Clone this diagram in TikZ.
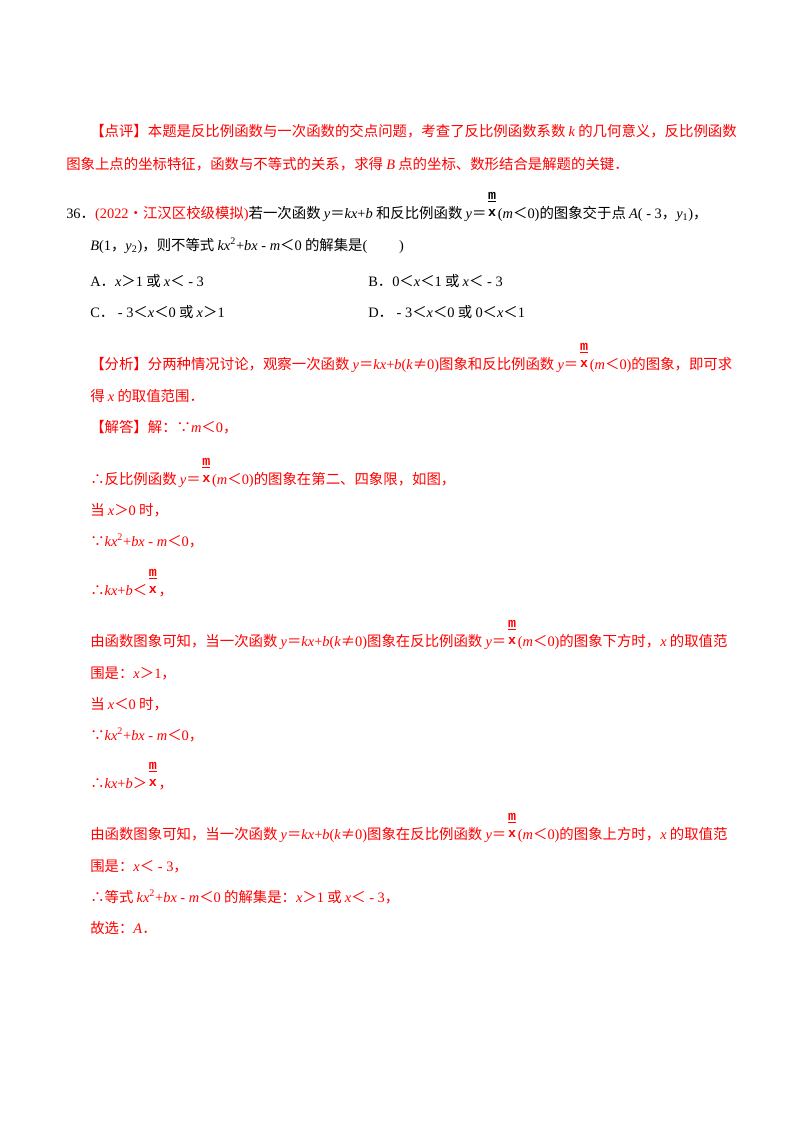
\documentclass[tikz,border=0pt]{standalone}
\usepackage{fontspec}
\setmainfont{Noto Sans CJK SC}
\newfontfamily\tmsf{Liberation Serif}
\newfontfamily\monof{Liberation Mono}
\newcommand\tr[1]{{\tmsf #1}}
\newcommand\ti[1]{{\tmsf\itshape #1}}
\newcommand\mfr{\makebox[0.8em]{\makebox[0pt]{\raisebox{14pt}{\monof\bfseries\fontsize{10}{10}\selectfont\underline{m}}}\makebox[0pt]{\raisebox{1pt}{\monof\bfseries\fontsize{10}{10}\selectfont x}}}}
\newcommand\mi{\tr{ - }}
\definecolor{rd}{RGB}{255,0,0}
\begin{document}
\begin{tikzpicture}[x=0.75pt,y=-0.75pt,
 t/.style={anchor=base west,inner sep=0pt,font=\fontsize{10.8}{12}\selectfont},
 r/.style={t,text=rd}]
\useasboundingbox (0,0) rectangle (800,1132);
\fill[white] (0,0) rectangle (800,1132);
\node[r] (l1) at (90,136) {【点评】本题是反比例函数与一次函数的交点问题，考查了反比例函数系数 \ti{k} 的几何意义，反比例函数};
\node[r] (l2) at (66,169) {图象上点的坐标特征，函数与不等式的关系，求得 \ti{B} 点的坐标、数形结合是解题的关键．};
\node[t] (q1) at (66,218) {\tr{36}．\textcolor{rd}{\tr{(2022}•江汉区校级模拟\tr{)}}若一次函数 \ti{y}＝\ti{kx}\tr{+}\ti{b} 和反比例函数 \ti{y}＝\mfr\tr{(}\ti{m}＜\tr{0)}的图象交于点 \ti{A}\tr{(}\mi\tr{3}，\ti{y}\tr{\textsubscript{1})}，};
\node[t] (q2) at (90,250) {\ti{B}\tr{(1}，\ti{y}\tr{\textsubscript{2})}，则不等式 \ti{kx}\tr{\textsuperscript{2}+}\ti{bx}\mi\ti{m}＜\tr{0} 的解集是\tr{(\hspace{2.2em})}};
\node[t] (oa) at (90,286) {\tr{A}．\ti{x}＞\tr{1} 或 \ti{x}＜\mi\tr{3}};
\node[t] (ob) at (368,286) {\tr{B}．\tr{0}＜\ti{x}＜\tr{1} 或 \ti{x}＜\mi\tr{3}};
\node[t] (oc) at (90,317) {\tr{C}．\mi\tr{3}＜\ti{x}＜\tr{0} 或 \ti{x}＞\tr{1}};
\node[t] (od) at (368,317) {\tr{D}．\mi\tr{3}＜\ti{x}＜\tr{0} 或 \tr{0}＜\ti{x}＜\tr{1}};
\begin{scope}[every node/.style={r}]
\node (a1) at (90,369) {【分析】分两种情况讨论，观察一次函数 \ti{y}＝\ti{kx}\tr{+}\ti{b}\tr{(}\ti{k}≠\tr{0)}图象和反比例函数 \ti{y}＝\mfr\tr{(}\ti{m}＜\tr{0)}的图象，即可求};
\node (a2) at (90,401) {得 \ti{x} 的取值范围．};
\node (s1) at (90,432) {【解答】解：∵\ti{m}＜\tr{0}，};
\node (s2) at (90,484) {∴反比例函数 \ti{y}＝\mfr\tr{(}\ti{m}＜\tr{0)}的图象在第二、四象限，如图，};
\node (s3) at (90,515) {当 \ti{x}＞\tr{0} 时，};
\node (s4) at (90,546) {∵\ti{kx}\tr{\textsuperscript{2}+}\ti{bx}\mi\ti{m}＜\tr{0}，};
\node (s5) at (90,595) {∴\ti{kx}\tr{+}\ti{b}＜\mfr，};
\node (s6) at (90,646) {由函数图象可知，当一次函数 \ti{y}＝\ti{kx}\tr{+}\ti{b}\tr{(}\ti{k}≠\tr{0)}图象在反比例函数 \ti{y}＝\mfr\tr{(}\ti{m}＜\tr{0)}的图象下方时，\ti{x} 的取值范};
\node (s7) at (90,678) {围是：\ti{x}＞\tr{1}，};
\node (s8) at (90,709) {当 \ti{x}＜\tr{0} 时，};
\node (s9) at (90,740) {∵\ti{kx}\tr{\textsuperscript{2}+}\ti{bx}\mi\ti{m}＜\tr{0}，};
\node (s10) at (90,788) {∴\ti{kx}\tr{+}\ti{b}＞\mfr，};
\node (s11) at (90,839) {由函数图象可知，当一次函数 \ti{y}＝\ti{kx}\tr{+}\ti{b}\tr{(}\ti{k}≠\tr{0)}图象在反比例函数 \ti{y}＝\mfr\tr{(}\ti{m}＜\tr{0)}的图象上方时，\ti{x} 的取值范};
\node (s12) at (90,871) {围是：\ti{x}＜\mi\tr{3}，};
\node (s13) at (90,902) {∴等式 \ti{kx}\tr{\textsuperscript{2}+}\ti{bx}\mi\ti{m}＜\tr{0} 的解集是：\ti{x}＞\tr{1} 或 \ti{x}＜\mi\tr{3}，};
\node (s14) at (90,933) {故选：\ti{A}．};
\end{scope}
\end{tikzpicture}
\end{document}
